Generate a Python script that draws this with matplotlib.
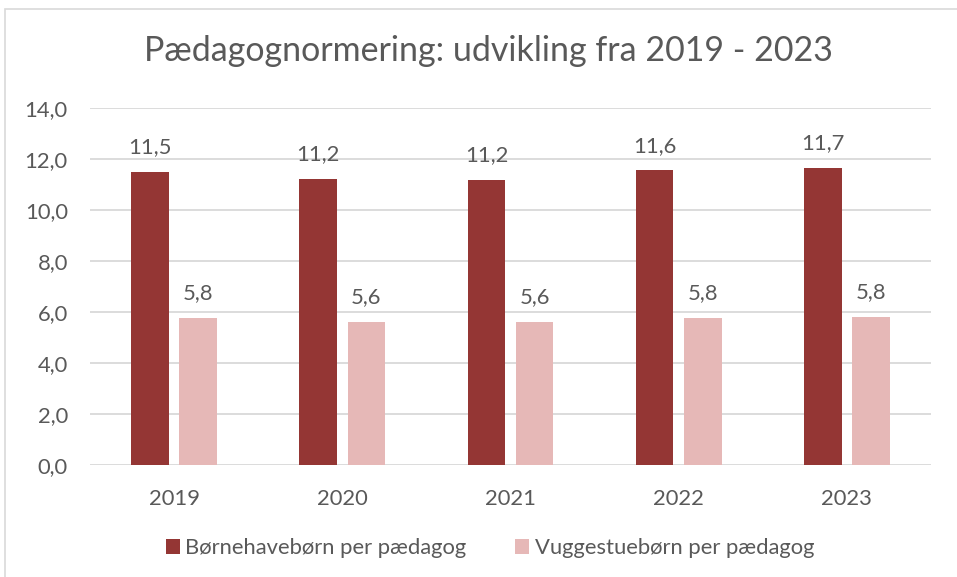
import numpy as np
import matplotlib
matplotlib.use("Agg")
import matplotlib.pyplot as plt
from matplotlib.patches import Rectangle
from matplotlib.ticker import FuncFormatter

plt.rcParams['font.family'] = ['Lato', 'DejaVu Sans']

# data
years = ['2019', '2020', '2021', '2022', '2023']
boernehave = [11.5, 11.23, 11.2, 11.56, 11.66]
vuggestue = [5.76, 5.61, 5.61, 5.76, 5.8]
series_names = ['Børnehavebørn per pædagog', 'Vuggestuebørn per pædagog']

DARK = '#943634'
LIGHT = '#E6B8B7'
TXT = '#595959'
GRID = '#D9D9D9'
FS = 15.8

fig = plt.figure(figsize=(9.57, 5.77), dpi=100)
# chart area border (excel style)
fig.patches.append(Rectangle((5/957, -0.1), 1.2, 1 - 9/577 + 0.1, transform=fig.transFigure,
                             fill=False, edgecolor='#D9D9D9', linewidth=1.2))

ax = fig.add_axes([90/957, 1 - 465/577, (931 - 90)/957, (465 - 108.3)/577])

x = np.arange(len(years))
w = 0.224
off = 0.143
b1 = ax.bar(x - off, boernehave, w, color=DARK, label=series_names[0], zorder=3)
b2 = ax.bar(x + off, vuggestue, w, color=LIGHT, label=series_names[1], zorder=3)

def komma(v):
    return ('%.1f' % v).replace('.', ',')

for bars in (b1, b2):
    for r in bars:
        ax.annotate(komma(r.get_height()), (r.get_x() + r.get_width()/2, r.get_height()),
                    xytext=(0, 13.5), textcoords='offset points', ha='center', va='baseline',
                    fontsize=FS, color=TXT)

ax.set_xlim(-0.5, len(years) - 0.5)
ax.set_ylim(0, 14)
ax.set_yticks(np.arange(0, 15, 2))
ax.yaxis.set_major_formatter(FuncFormatter(lambda v, p: komma(v)))
ax.set_xticks(x)
ax.set_xticklabels(years)
ax.tick_params(axis='y', length=0, pad=16, labelsize=FS, labelcolor=TXT)
ax.tick_params(axis='x', length=0, pad=17, labelsize=FS, labelcolor=TXT)
ax.grid(axis='y', color=GRID, linewidth=1.3, zorder=0)
for s in ax.spines.values():
    s.set_visible(False)

fig.text(488/957, 1 - 51/577, 'Pædagognormering: udvikling fra 2019 - 2023',
         ha='center', va='center', fontsize=24.5, color=TXT)

fig.legend(handles=[b1, b2], loc='center', bbox_to_anchor=(490/957, 1 - 548/577), ncol=2,
           frameon=False, fontsize=FS, labelcolor=TXT, handlelength=0.65, handleheight=0.65,
           handletextpad=0.25, columnspacing=2.2)

fig.savefig('out.png', dpi=100, facecolor='white')
